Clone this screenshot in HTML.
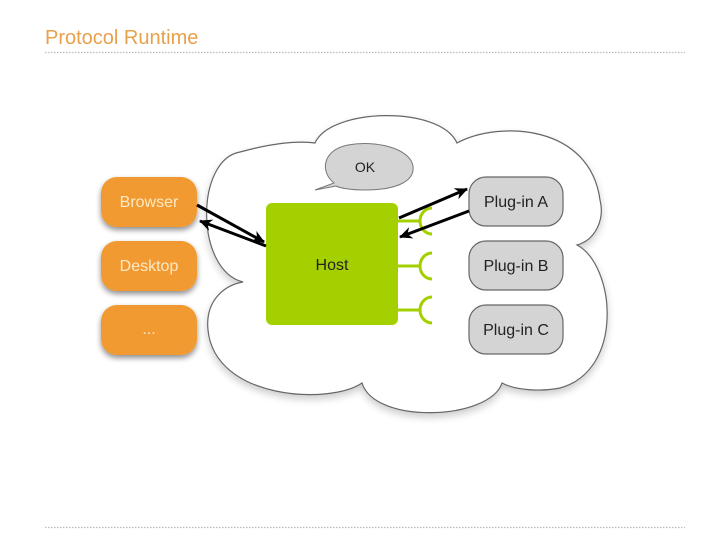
<!DOCTYPE html>
<html><head><meta charset="utf-8"><style>
body{margin:0;background:#fff;width:728px;height:546px;overflow:hidden;font-family:"Liberation Sans",sans-serif}
</style></head><body>
<svg width="728" height="546" viewBox="0 0 728 546" xmlns="http://www.w3.org/2000/svg">
<defs>
<filter id="sh" x="-30%" y="-30%" width="160%" height="170%"><feGaussianBlur in="SourceAlpha" stdDeviation="3"/><feOffset dx="0" dy="3"/><feComponentTransfer><feFuncA type="linear" slope="0.45"/></feComponentTransfer><feMerge><feMergeNode/><feMergeNode in="SourceGraphic"/></feMerge></filter>
<filter id="sh2" x="-10%" y="-10%" width="120%" height="125%"><feGaussianBlur in="SourceAlpha" stdDeviation="4"/><feOffset dy="4"/><feComponentTransfer><feFuncA type="linear" slope="0.2"/></feComponentTransfer><feMerge><feMergeNode/><feMergeNode in="SourceGraphic"/></feMerge></filter>
<marker id="ah" markerWidth="14" markerHeight="12" refX="12" refY="6" orient="auto" markerUnits="userSpaceOnUse"><path d="M0,0 L13,6 L0,12 L4,6 Z" fill="#000"/></marker>
</defs>
<text x="45" y="44" font-size="20" fill="#e9a04a" font-family="Liberation Sans, sans-serif">Protocol Runtime</text>
<line x1="45" y1="52.5" x2="685" y2="52.5" stroke="#bbb" stroke-width="1.2" stroke-dasharray="1.5,1.5"/>
<line x1="45" y1="527.5" x2="685" y2="527.5" stroke="#bbb" stroke-width="1.2" stroke-dasharray="1.5,1.5"/>

<path filter="url(#sh2)" d="M315,143 C330,108 440,105 457,143 C500,120 590,125 600,200 C605,220 595,240 577,245 C615,265 625,370 560,388 C540,392 515,390 502,383 C490,420 375,425 362,383 C330,405 215,400 208,330 C205,300 225,285 243,282 C195,270 195,160 240,152 C265,145 295,140 315,143 Z" fill="#fff" stroke="#666" stroke-width="1.2"/>

<path d="M334,183 C320,172 322,150 348,145 C375,140 410,148 413,166 C415,182 395,190 365,190 C350,190 340,188 336,186 L315,190 Z" fill="#d4d4d4" stroke="#777" stroke-width="1"/>
<text x="365" y="172" font-size="14" text-anchor="middle" fill="#222">OK</text>

<g filter="url(#sh)">
<rect x="101" y="177" width="96" height="50" rx="16" fill="#f29a33"/>
<rect x="101" y="241" width="96" height="50" rx="16" fill="#f29a33"/>
<rect x="101" y="305" width="96" height="50" rx="16" fill="#f29a33"/>
</g>
<g font-size="16" fill="#fde9c6" text-anchor="middle">
<text x="149" y="207">Browser</text>
<text x="149" y="271">Desktop</text>
<text x="149" y="334">...</text>
</g>

<rect x="266" y="203" width="132" height="122" rx="6" fill="#a5d000"/>
<text x="332" y="270" font-size="16" text-anchor="middle" fill="#222">Host</text>

<g stroke="#a5d000" stroke-width="3" fill="none">
<line x1="398" y1="221" x2="420" y2="221"/><path d="M432,208 A12,13 0 0 0 432,234"/>
<line x1="398" y1="266" x2="420" y2="266"/><path d="M432,253 A12,13 0 0 0 432,279"/>
<line x1="398" y1="310" x2="420" y2="310"/><path d="M432,297 A12,13 0 0 0 432,323"/>
</g>

<g fill="#d4d4d4" stroke="#666" stroke-width="1.2">
<rect x="469" y="177" width="94" height="49" rx="17"/>
<rect x="469" y="241" width="94" height="49" rx="17"/>
<rect x="469" y="305" width="94" height="49" rx="17"/>
</g>
<g font-size="16" text-anchor="middle" fill="#222">
<text x="516" y="207">Plug-in A</text>
<text x="516" y="271">Plug-in B</text>
<text x="516" y="335">Plug-in C</text>
</g>

<g stroke="#000" stroke-width="3" marker-end="url(#ah)">
<line x1="197" y1="205" x2="264" y2="242"/>
<line x1="266" y1="246" x2="200" y2="221"/>
<line x1="399" y1="218" x2="467" y2="189"/>
<line x1="469" y1="211" x2="400" y2="237"/>
</g>
</svg>
</body></html>
